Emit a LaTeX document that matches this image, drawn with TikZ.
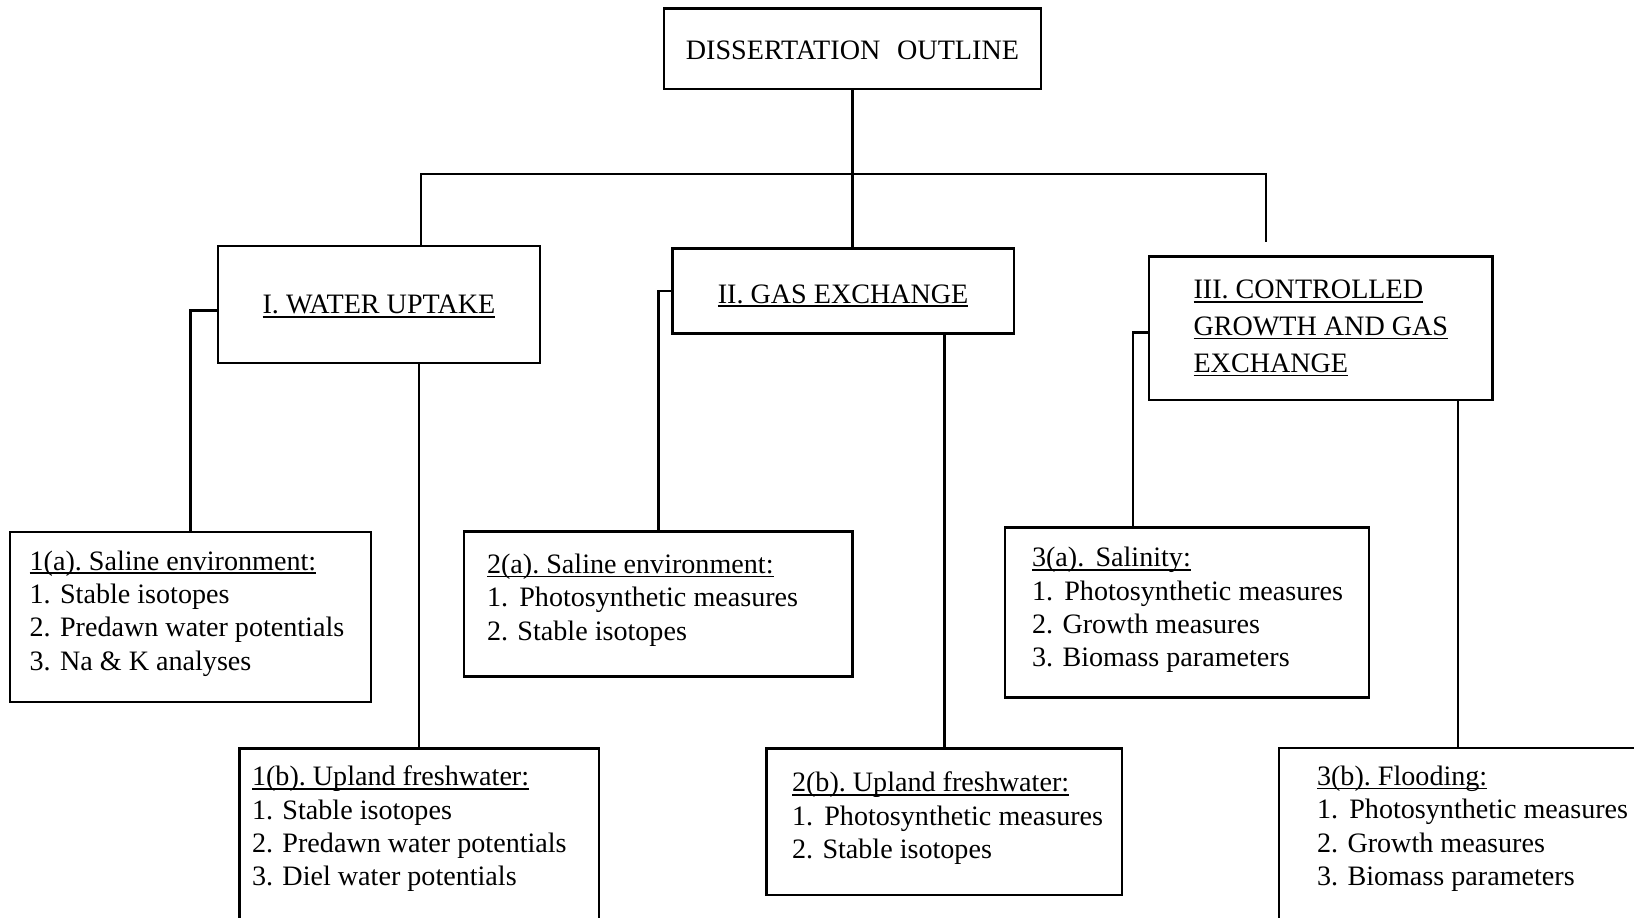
\documentclass[tikz,border=0pt]{standalone}
\usepackage{fontspec}
\setmainfont{Liberation Serif}
\newsavebox{\ulbox}
\newcommand{\undl}[1]{\sbox{\ulbox}{#1}\rlap{\rule[-2.1pt]{\wd\ulbox}{0.9pt}}\usebox{\ulbox}}
\begin{document}
\begin{tikzpicture}[x=0.02cm, y=-0.02cm]
    \tikzstyle{box}=[draw, line width=1.4pt, inner sep=0pt, outer sep=0pt, anchor=north west, font=\fontsize{16}{19}\selectfont]
    \tikzstyle{head}=[text depth=0pt]
    \tikzstyle{list}=[anchor=north west, inner sep=0pt, align=left, font=\fontsize{16}{19}\selectfont]
    \tikzstyle{link}=[line width=1.4pt]
    \useasboundingbox (0, 0) rectangle (1634, 917);
    \clip (0, 0) rectangle (1634, 917);
    % top level
    \node [box, head, text height=12pt, minimum width=7.54cm, minimum height=1.614cm] (top) at (664, 8.3) {DISSERTATION\hspace{0.6em}OUTLINE};
    % chapters
    \node [box, head, text height=10.8pt, minimum width=6.44cm, minimum height=2.34cm] (b1) at (218, 246) {\undl{I. WATER UPTAKE}};
    \node [box, head, text height=14.2pt, minimum width=6.834cm, minimum height=1.70cm] (b2) at (672.3, 248.3) {\undl{II. GAS EXCHANGE}};
    \node [box, align=left, minimum width=6.874cm, minimum height=2.866cm, font=\fontsize{16}{21}\selectfont] (b3) at (1149, 256.7) {\undl{III. CONTROLLED}\\ \undl{GROWTH AND GAS}\\ \undl{EXCHANGE}};
    % studies
    \node [box, minimum width=7.22cm, minimum height=3.40cm] (s1a) at (10, 532) {};
    \node [box, minimum width=7.774cm, minimum height=2.90cm] (s2a) at (464, 531.7) {};
    \node [box, minimum width=7.286cm, minimum height=3.40cm] (s3a) at (1005, 527.3) {};
    \node [box, minimum width=7.194cm, minimum height=4.6cm] (s1b) at (239.3, 748.3) {};
    \node [box, minimum width=7.112cm, minimum height=2.934cm] (s2b) at (766.7, 748.3) {};
    \node [box, minimum width=7.16cm, minimum height=4.6cm] (s3b) at (1279, 748) {};
    \node [list] (t1a) at (29.3, 546.5) {\strut\undl{1(a).\ Saline environment:}\\ 1. Stable isotopes\\ 2. Predawn water potentials\\ 3. Na \& K analyses};
    \node [list] (t2a) at (486.7, 549.8) {\strut\undl{2(a).\ Saline environment:}\\ 1.\hspace{0.4em}Photosynthetic measures\\ 2. Stable isotopes};
    \node [list] (t3a) at (1031.7, 543.1) {\strut\undl{3(a).\hspace{0.4em}Salinity:}\\ 1.\hspace{0.4em}Photosynthetic measures\\ 2. Growth measures\\ 3. Biomass parameters};
    \node [list] (t1b) at (251.7, 762.1) {\strut\undl{1(b).\ Upland freshwater:}\\ 1. Stable isotopes\\ 2. Predawn water potentials\\ 3. Diel water potentials};
    \node [list] (t2b) at (791.7, 768.1) {\strut\undl{2(b).\ Upland freshwater:}\\ 1.\hspace{0.4em}Photosynthetic measures\\ 2. Stable isotopes};
    \node [list] (t3b) at (1316.7, 761.8) {\strut\undl{3(b).\ Flooding:}\\ 1.\hspace{0.4em}Photosynthetic measures\\ 2. Growth measures\\ 3. Biomass parameters};
    % tree
    \coordinate (barL) at (421, 174);
    \coordinate (barR) at (1266, 174);
    \coordinate (stubR) at (1266, 242);
    \draw [link] (top.south) -- (top.south |- b2.north);
    \draw [link] (b1.north -| barL) |- (barR) -- (stubR);
    \draw [link] ([yshift=-0.12cm]b1.west) -| (s1a.north);
    \draw [link] (b2.west) -| (s2a.north);
    \draw [link] ([yshift=-0.08cm]b3.west) -| ([xshift=-1.08cm]s3a.north);
    \draw [link] (b1.south -| s1b.north) -- (s1b.north);
    \draw [link] (b2.south -| s2b.north) -- (s2b.north);
    \draw [link] (b3.south -| s3b.north) -- (s3b.north);
\end{tikzpicture}
\end{document}
